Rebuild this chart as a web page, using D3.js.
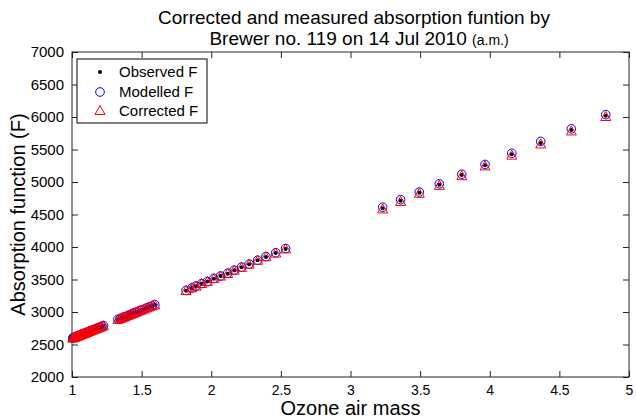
<!DOCTYPE html>
<html><head><meta charset="utf-8">
<script src="https://cdn.jsdelivr.net/npm/d3@7"></script>
<style>
html,body{margin:0;padding:0;background:#fff;}
svg text{font-family:"Liberation Sans",Arial,Helvetica,sans-serif;fill:#000;}
</style></head>
<body>
<svg id="chart" width="636" height="420"></svg>
<script>
const airMass = [
 1.005,1.010,1.015,1.020,1.026,1.032,1.038,1.044,1.050,1.057,1.064,1.071,1.078,1.086,1.094,1.102,1.110,1.119,1.128,1.137,1.147,1.157,1.168,1.179,1.190,1.202,1.214,1.226,
 1.330,1.345,1.360,1.375,1.390,1.405,1.420,1.436,1.452,1.468,1.485,1.502,1.520,1.538,1.556,1.575,1.595,
 1.819,1.860,1.890,1.931,1.972,2.019,2.067,2.118,2.165,2.218,2.272,2.333,2.393,2.463,2.534,
 3.231,3.360,3.494,3.638,3.799,3.966,4.158,4.366,4.586,4.833];
const observedF = [
 2598,2603,2606,2612,2616,2621,2627,2632,2638,2643,2650,2655,2662,2668,2676,2681,2690,2697,2704,2713,2720,2729,2738,2748,2756,2767,2778,2788,
 2885,2897,2910,2921,2936,2948,2961,2975,2988,3003,3017,3031,3046,3062,3077,3094,3110,
 3328,3370,3396,3435,3471,3512,3552,3590,3642,3687,3734,3795,3847,3908,3969,
 4595,4712,4835,4958,5108,5257,5426,5600,5800,6020];
const modelledF = [
 2601,2600,2610,2614,2613,2624,2625,2636,2640,2641,2653,2657,2659,2671,2673,2684,2688,2700,2707,2710,2723,2731,2735,2751,2759,2764,2781,2791,
 2888,2895,2913,2924,2933,2951,2959,2978,2991,3000,3020,3034,3044,3065,3080,3091,3113,
 3331,3368,3400,3437,3468,3517,3554,3596,3643,3691,3737,3797,3853,3912,3977,
 4612,4728,4846,4972,5120,5270,5442,5625,5818,6036];
const correctedF = [
 2592,2598,2601,2607,2611,2614,2622,2626,2633,2637,2645,2648,2657,2662,2670,2675,2684,2691,2698,2706,2714,2722,2732,2741,2750,2760,2772,2781,
 2879,2891,2905,2915,2930,2942,2956,2969,2982,2997,3011,3025,3040,3056,3071,3088,3104,
 3322,3365,3389,3431,3463,3507,3545,3584,3637,3679,3728,3788,3842,3899,3963,
 4578,4693,4818,4941,5089,5240,5406,5578,5778,6000];
const xTicks = [1,1.5,2,2.5,3,3.5,4,4.5,5];
const xTickLabels = ["1","1.5","2","2.5","3","3.5","4","4.5","5"];
const yTicks = [2000,2500,3000,3500,4000,4500,5000,5500,6000,6500,7000];
const legendLabels = ["Observed F","Modelled F","Corrected F"];
const titleLine1 = "Corrected and measured absorption funtion by";
const titleLine2 = "Brewer no. 119 on 14 Jul 2010";
const titleSuffix = "(a.m.)";
const xLabel = "Ozone air mass";
const yLabel = "Absorption function (F)";

const svg = d3.select("#chart");
const L = 72, R = 629, T = 52, B = 377;
const x = d3.scaleLinear().domain([1,5]).range([L,R]);
const y = d3.scaleLinear().domain([2000,7000]).range([B,T]);

// axes box with inward ticks
const tl = 6;
svg.append("g").attr("transform",`translate(0,${B})`)
  .call(d3.axisBottom(x).tickValues(xTicks).tickFormat((d,i)=>xTickLabels[i]).tickSizeInner(-tl).tickSizeOuter(0).tickPadding(8))
  .call(g=>{g.select(".domain").remove(); g.selectAll("line").attr("stroke","#222");
    g.selectAll("text").attr("font-size",14);});
svg.append("g").attr("transform",`translate(0,${T})`)
  .call(d3.axisTop(x).tickValues(xTicks).tickFormat("").tickSizeInner(-tl).tickSizeOuter(0))
  .call(g=>{g.select(".domain").remove(); g.selectAll("line").attr("stroke","#222");});
svg.append("g").attr("transform",`translate(${L},0)`)
  .call(d3.axisLeft(y).tickValues(yTicks).tickFormat(d3.format("d")).tickSizeInner(-tl).tickSizeOuter(0).tickPadding(8))
  .call(g=>{g.select(".domain").remove(); g.selectAll("line").attr("stroke","#222");
    g.selectAll("text").attr("font-size",15);});
svg.append("g").attr("transform",`translate(${R},0)`)
  .call(d3.axisRight(y).tickValues(yTicks).tickFormat("").tickSizeInner(-tl).tickSizeOuter(0))
  .call(g=>{g.select(".domain").remove(); g.selectAll("line").attr("stroke","#222");});
svg.append("rect").attr("x",L).attr("y",T).attr("width",R-L).attr("height",B-T)
  .attr("fill","none").attr("stroke","#222").attr("stroke-width",1);

// data
const idx = d3.range(airMass.length);
const triPath = "M0,-5.5L5,3.5L-5,3.5Z";
svg.append("g").selectAll("circle").data(idx).join("circle")
  .attr("cx",i=>x(airMass[i])).attr("cy",i=>y(observedF[i])).attr("r",2).attr("fill","#000");
svg.append("g").selectAll("circle").data(idx).join("circle")
  .attr("cx",i=>x(airMass[i])).attr("cy",i=>y(modelledF[i])).attr("r",4.3)
  .attr("fill","none").attr("stroke","#0000ff").attr("stroke-width",1);
svg.append("g").selectAll("path").data(idx).join("path")
  .attr("transform",i=>`translate(${x(airMass[i])},${y(correctedF[i])})`).attr("d",triPath)
  .attr("fill","none").attr("stroke","#ff0000").attr("stroke-width",1);

// legend
const lg = svg.append("g");
lg.append("rect").attr("x",77).attr("y",59).attr("width",130).attr("height",64)
  .attr("fill","#fff").attr("stroke","#000").attr("stroke-width",1);
const ly = [72,92,111];
lg.append("circle").attr("cx",100).attr("cy",ly[0]).attr("r",2).attr("fill","#000");
lg.append("circle").attr("cx",100).attr("cy",ly[1]).attr("r",4.3).attr("fill","none").attr("stroke","#0000ff");
lg.append("path").attr("transform",`translate(100,${ly[2]})`).attr("d",triPath).attr("fill","none").attr("stroke","#ff0000");
legendLabels.forEach((t,i)=>{
  lg.append("text").attr("x",119).attr("y",ly[i]).attr("dy","0.35em").attr("font-size",15).text(t);
});

// titles
svg.append("text").attr("x",354).attr("y",24).attr("text-anchor","middle").attr("font-size",19).text(titleLine1);
const t2 = svg.append("text").attr("x",359).attr("y",45).attr("text-anchor","middle").attr("font-size",19);
t2.append("tspan").text(titleLine2 + " ");
t2.append("tspan").attr("font-size",14).text(titleSuffix);

svg.append("text").attr("x",(L+R)/2).attr("y",415).attr("text-anchor","middle").attr("font-size",20).text(xLabel);
svg.append("text").attr("transform",`translate(25,${(T+B)/2}) rotate(-90)`).attr("text-anchor","middle").attr("font-size",20).text(yLabel);
</script>
</body></html>
